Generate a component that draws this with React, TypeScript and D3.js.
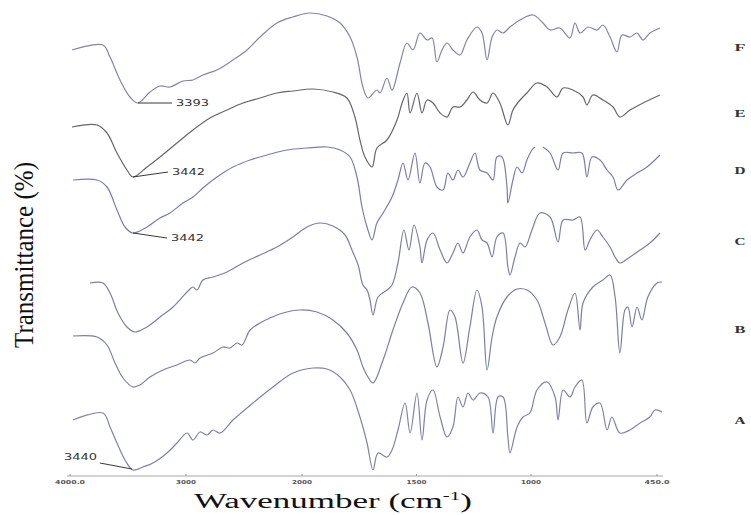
import * as d3 from "d3";
import { useEffect, useRef } from "react";

// [wavenumber (cm-1), transmittance (stacked, arbitrary %)]
const seriesF = [
  [3983, 85.2], [3716, 86.2], [3655, 83.8], [3569, 79.2], [3483, 75.8], [3414, 74.6], [3310, 76.8],
  [3224, 78], [3138, 77.8], [3026, 79], [2940, 79.2], [2854, 80.2], [2733, 81.2], [2595, 83.2],
  [2474, 85.2], [2362, 87.8], [2216, 90.6], [2078, 91.8], [1965, 92.6], [1891, 92], [1834, 90.6],
  [1790, 87.8], [1760, 83.8], [1734, 77.8], [1712, 75.6], [1673, 77.2], [1659, 76.6], [1629, 79.6],
  [1607, 77.2], [1572, 82.6], [1542, 86.6], [1515, 85.2], [1485, 88.6], [1454, 87.2], [1432, 87.6],
  [1411, 82.8], [1389, 85.2], [1367, 86.6], [1341, 85.2], [1310, 84.2], [1280, 87.2], [1236, 89.8],
  [1214, 88.6], [1192, 83.2], [1170, 87.8], [1149, 89.2], [1122, 88.6], [1092, 89.8], [1048, 91.2],
  [991, 92.2], [948, 90.6], [917, 89.2], [874, 89.6], [830, 87.6], [808, 90.6], [786, 88.6],
  [751, 89.8], [712, 89.2], [686, 90.2], [655, 87.8], [625, 84.8], [603, 88.2], [568, 87.8],
  [537, 88.6], [511, 87.2], [481, 88.6], [437, 89.6],
];

const seriesE = [
  [3983, 69.8], [3767, 70.2], [3681, 68.6], [3595, 64.6], [3509, 61.2], [3457, 59.8], [3336, 61.8],
  [3224, 63.8], [3078, 66.6], [2940, 69.2], [2793, 71.6], [2647, 73.2], [2509, 74.6], [2362, 75.6],
  [2216, 76.6], [2078, 77], [1952, 77.4], [1865, 76.8], [1804, 75.6], [1769, 71.8], [1747, 67.2],
  [1725, 63.8], [1694, 61.8], [1673, 65.6], [1629, 67.2], [1585, 71.2], [1563, 74.6], [1542, 76.6],
  [1528, 72.6], [1498, 76.6], [1476, 72.6], [1454, 75.2], [1428, 74.6], [1397, 72.6], [1367, 71.8],
  [1341, 73.8], [1310, 73.8], [1280, 75.2], [1253, 76.8], [1223, 75.2], [1192, 74.6], [1166, 76.6],
  [1136, 74.6], [1101, 70.2], [1079, 73.2], [1048, 75.2], [1018, 76.6], [974, 78.6], [930, 77.8],
  [887, 75.8], [860, 77.6], [817, 77.2], [773, 75.8], [756, 74.2], [730, 76.2], [686, 75.2],
  [642, 73.8], [612, 71.8], [568, 73.2], [511, 74.6], [437, 76.2],
];

const seriesD = [
  [3974, 59.2], [3767, 59.2], [3681, 57.8], [3595, 53.2], [3526, 49.8], [3457, 48.6], [3336, 49.8],
  [3224, 51.6], [3138, 52.6], [3026, 54.6], [2940, 55.8], [2854, 57.6], [2733, 59.8], [2595, 61.8],
  [2448, 63.2], [2302, 64.2], [2129, 65.2], [1978, 65.6], [1891, 65.8], [1834, 65.2], [1790, 63.8],
  [1760, 59.8], [1738, 53.8], [1716, 49.8], [1694, 47.2], [1673, 50.6], [1646, 52.6], [1607, 55.8],
  [1581, 59.2], [1559, 62.6], [1537, 59.2], [1507, 64.6], [1485, 58.6], [1463, 62.6], [1441, 61.8],
  [1411, 57.8], [1384, 57.2], [1363, 60.6], [1341, 59.2], [1319, 61.2], [1297, 59.8], [1267, 62.6],
  [1245, 64.6], [1223, 61.2], [1192, 60.6], [1166, 59.2], [1149, 63.8], [1127, 63.8], [1105, 57.8],
  [1101, 54.6], [1079, 59.2], [1061, 61.8], [1039, 60.6], [1018, 63.2], [996, 65.2], [983, 65.8],
  [965, NaN], [948, 65.8], [917, 64.6], [882, 61.2], [860, 64.6], [817, 64.6], [778, 64.6],
  [756, 59.8], [734, 63.8], [699, 63.2], [668, 61.2], [642, 59.8], [620, 57.2], [581, 59.2],
  [537, 60.6], [494, 61.8], [437, 64.2],
];

const seriesC = [
  [3828, 38.6], [3716, 38.6], [3655, 36.6], [3586, 32.6], [3509, 29.8], [3440, 28.8], [3336, 29.8],
  [3224, 31.8], [3112, 33.8], [2991, 36.8], [2940, 37.8], [2905, 37.2], [2854, 39.2], [2767, 39.8],
  [2647, 40.8], [2509, 42.6], [2362, 44.2], [2216, 45.8], [2078, 47.8], [1978, 49.8], [1921, 50.6],
  [1865, 50], [1812, 48.2], [1782, 45.2], [1755, 42.2], [1734, 38.2], [1716, 37.2], [1703, 35.2],
  [1690, 32.2], [1668, 35.8], [1629, 37.2], [1607, 38.2], [1581, 42.6], [1555, 49.2], [1533, 45.2],
  [1511, 50.2], [1485, 45.8], [1476, 42.6], [1454, 47.2], [1428, 48.6], [1397, 45.2], [1367, 42.6],
  [1341, 44.6], [1319, 46.6], [1297, 44.6], [1267, 47.8], [1236, 49.2], [1214, 47.2], [1192, 46.6],
  [1170, 43.8], [1149, 47.8], [1122, 48.6], [1101, 41.8], [1092, 40.2], [1070, 43.8], [1048, 46.6],
  [1026, 45.8], [996, 49.2], [961, 52.6], [917, 51.8], [882, 46.8], [860, 51.2], [817, 51.2],
  [786, 51.8], [764, 45.2], [743, 47.2], [712, 49.2], [686, 47.8], [655, 45.8], [633, 43.8],
  [612, 42.6], [568, 43.8], [524, 45.2], [481, 46.6], [437, 48.6],
];

const seriesB = [
  [3974, 28], [3767, 27.8], [3681, 26.2], [3612, 22.6], [3543, 19.6], [3457, 17.8], [3397, 18.2],
  [3310, 19.8], [3198, 21.2], [3078, 22.2], [2966, 23.2], [2922, 22.6], [2879, 23.6], [2767, 24.6],
  [2681, 25.8], [2621, 25.6], [2560, 26.6], [2517, 26.2], [2448, 29.2], [2362, 30.6], [2276, 31.6],
  [2164, 32.6], [2017, 33.2], [1935, 32.8], [1865, 31.2], [1804, 28.6], [1760, 25.2], [1734, 21.8],
  [1712, 19.8], [1690, 18.6], [1646, 23.2], [1603, 29.2], [1559, 34.6], [1520, 37.8], [1485, 36.6],
  [1450, 30.6], [1411, 21.8], [1384, 25.8], [1354, 33.2], [1332, 31.8], [1297, 22.6], [1267, 29.8],
  [1236, 37.2], [1214, 33.8], [1192, 21.2], [1170, 27.8], [1149, 31.8], [1105, 35.8], [1061, 37.4],
  [1018, 37.2], [974, 35.2], [939, 30.6], [904, 26.2], [874, 27.8], [839, 33.2], [808, 36.6],
  [786, 29.2], [773, 34.6], [730, 37.8], [686, 39.2], [655, 40.2], [633, 35.8], [612, 24.6],
  [590, 33.2], [577, 33.8], [559, 29.8], [537, 33.8], [516, 31.2], [490, 35.8], [450, 38.6],
  [428, 38.8],
];

const seriesA = [
  [3974, 11.2], [3716, 12.6], [3655, 9.8], [3595, 6.6], [3526, 3.2], [3457, 1.2], [3371, 1.8],
  [3285, 2.6], [3164, 4.6], [3078, 6.6], [2991, 8.6], [2940, 7.2], [2879, 8.8], [2819, 8.2],
  [2767, 9.2], [2707, 8.6], [2595, 11.2], [2423, 14.6], [2250, 17.8], [2078, 20.6], [1952, 21.6],
  [1891, 21.4], [1834, 19.8], [1790, 17.2], [1747, 11.8], [1716, 6.6], [1690, 1.2], [1668, 4.6],
  [1629, 3.8], [1607, 5.2], [1581, 9.2], [1550, 14.6], [1528, 8.6], [1498, 16.6], [1476, 7.2],
  [1454, 15.2], [1428, 17.2], [1397, 11.8], [1367, 7.8], [1341, 9.8], [1319, 15.8], [1297, 13.8],
  [1275, 16.6], [1253, 15.2], [1223, 16.6], [1188, 15.8], [1166, 8.6], [1144, 15.8], [1122, 15.8],
  [1101, 7.8], [1092, 4.6], [1061, 9.8], [1035, 11.8], [1005, 12.6], [974, 17.2], [930, 18.8],
  [895, 15.8], [882, 11.2], [860, 17.2], [830, 15.8], [808, 17.8], [778, 19.2], [756, 10.6],
  [730, 13.8], [699, 14.6], [668, 9.2], [647, 11.8], [612, 8.6], [568, 9.2], [524, 10.6],
  [481, 11.8], [459, 13.2], [428, 12.8],
];

const seriesNames = ["F", "E", "D", "C", "B", "A"];
const seriesData = [seriesF, seriesE, seriesD, seriesC, seriesB, seriesA];
const seriesColors = ["#8385aa", "#66666e", "#7a7dae", "#7c7fa6", "#7b7ea8", "#7f82ae"];
// transmittance level where the series letter sits
const labelLevels = [85.8, 72.6, 61.2, 47, 29.4, 11.2];

const tickValues = [4000, 3000, 2000, 1500, 1000, 450];
const tickLabels = ["4000.0", "3000", "2000", "1500", "1000", "450.0"];

// peak annotations: [text, wavenumber, transmittance]
const peakLabels = [
  ["3393", 3414, 74.6],
  ["3442", 3457, 59.8],
  ["3442", 3457, 48.6],
  ["3440", 3466, 1.4],
];
const peakOffsets = [[34, 0], [35, -5], [34, 5], [-32, -6]];

const W = 751;
const H = 515;

const App = () => {
  const ref = useRef(null);

  useEffect(() => {
    const svg = d3.select(ref.current);
    svg.selectAll("*").remove();

    const x = d3.scaleLinear().domain([4000, 2000, 450]).range([70, 302, 657]);
    const y = d3.scaleLinear().domain([0, 95.2]).range([476, 0]);

    svg.append("rect").attr("width", W).attr("height", H).attr("fill", "#fff");

    // axis
    const axis = svg.append("g");
    axis.append("line")
      .attr("x1", x(4000) - 3).attr("x2", x(450) + 6)
      .attr("y1", y(0)).attr("y2", y(0))
      .attr("stroke", "#a8a8a8").attr("stroke-width", 1);
    axis.selectAll(".tk")
      .data(tickValues)
      .enter()
      .append("line")
      .attr("x1", d => x(d)).attr("x2", d => x(d))
      .attr("y1", y(0)).attr("y2", y(0) - 2)
      .attr("stroke", "#999");
    axis.selectAll(".tl")
      .data(tickValues)
      .enter()
      .append("text")
      .attr("x", d => x(d))
      .attr("y", y(0) + 8)
      .attr("text-anchor", "middle")
      .attr("font-family", "DejaVu Sans")
      .attr("font-weight", "bold")
      .attr("font-size", 5.5)
      .attr("fill", "#555")
      .attr("textLength", (d, i) => tickLabels[i].length * 5)
      .attr("lengthAdjust", "spacingAndGlyphs")
      .text((d, i) => tickLabels[i]);

    const line = d3.line()
      .defined(d => !isNaN(d[1]))
      .x(d => x(d[0]))
      .y(d => y(d[1]))
      .curve(d3.curveCatmullRom.alpha(0.5));

    svg.selectAll(".spec")
      .data(seriesData)
      .enter()
      .append("path")
      .attr("d", d => line(d))
      .attr("fill", "none")
      .attr("stroke", (d, i) => seriesColors[i])
      .attr("stroke-width", 1.2)
      .attr("stroke-linejoin", "round");

    // series letters
    svg.selectAll(".sl")
      .data(seriesNames)
      .enter()
      .append("text")
      .attr("x", 740)
      .attr("y", (d, i) => y(labelLevels[i]) + 4)
      .attr("text-anchor", "middle")
      .attr("font-family", "Liberation Serif")
      .attr("font-weight", "bold")
      .attr("font-size", 11)
      .attr("fill", "#333")
      .attr("textLength", 11)
      .attr("lengthAdjust", "spacingAndGlyphs")
      .text(d => d);

    // peak annotations
    peakLabels.forEach((p, i) => {
      const px = x(p[1]);
      const py = y(p[2]);
      const [dx, dy] = peakOffsets[i];
      svg.append("line")
        .attr("x1", px).attr("y1", py)
        .attr("x2", px + dx).attr("y2", py + dy)
        .attr("stroke", "#222").attr("stroke-width", 0.9);
      const tx = dx > 0 ? px + dx + 4 : px + dx - 3;
      const ty = dx > 0 ? py + dy + 3 : py + dy - 3;
      svg.append("text")
        .attr("x", tx).attr("y", ty)
        .attr("text-anchor", dx > 0 ? "start" : "end")
        .attr("font-family", "DejaVu Sans")
        .attr("font-size", 8)
        .attr("fill", "#333")
        .attr("textLength", 33)
        .attr("lengthAdjust", "spacingAndGlyphs")
        .text(p[0]);
    });

    // axis titles
    const xt = svg.append("text")
      .attr("x", 333).attr("y", 508)
      .attr("text-anchor", "middle")
      .attr("font-family", "Liberation Serif")
      .attr("font-size", 20)
      .attr("fill", "#111")
      .attr("textLength", 278)
      .attr("lengthAdjust", "spacingAndGlyphs");
    xt.append("tspan").text("Wavenumber (cm");
    xt.append("tspan").attr("dy", -8).attr("font-size", 12).text("-1");
    xt.append("tspan").attr("dy", 8).text(")");

    svg.append("text")
      .attr("transform", "translate(33,255) rotate(-90)")
      .attr("text-anchor", "middle")
      .attr("font-family", "Liberation Serif")
      .attr("font-size", 27)
      .attr("fill", "#111")
      .attr("textLength", 186)
      .attr("lengthAdjust", "spacingAndGlyphs")
      .text("Transmittance (%)");
  }, []);

  return (
    <svg ref={ref} width={W} height={H} style={{ position: "absolute", left: 0, top: 0 }}></svg>
  );
};

export default App;
